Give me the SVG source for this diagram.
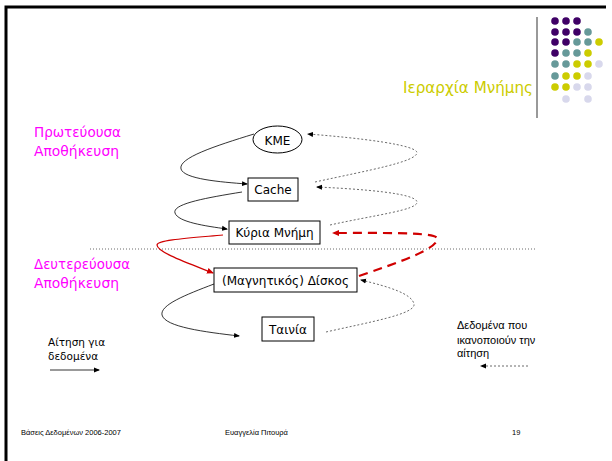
<svg xmlns="http://www.w3.org/2000/svg" width="612" height="461" viewBox="0 0 612 461">
<defs>
<style>
.node{fill:#fff;stroke:#000;stroke-width:1}
.nt{font-family:"DejaVu Sans","Liberation Sans",sans-serif;font-size:12px;fill:#000;text-anchor:middle}
.mag{font-family:"DejaVu Sans","Liberation Sans",sans-serif;font-size:14px;fill:#ff00ff}
.leg{font-family:"DejaVu Sans","Liberation Sans",sans-serif;font-size:10.5px;fill:#000}
.legr{font-family:"Liberation Sans",Arial,sans-serif;font-size:11px;fill:#000}
.foot{font-family:"Liberation Sans",Arial,sans-serif;font-size:7.5px;fill:#000}
.req{fill:none;stroke:#000;stroke-width:0.8;marker-end:url(#ab)}
.ret{fill:none;stroke:#444;stroke-width:0.8;stroke-dasharray:2,2;marker-end:url(#ab)}
.redreq{fill:none;stroke:#d00000;stroke-width:1.2;marker-end:url(#ar)}
.redret{fill:none;stroke:#d00000;stroke-width:2.2;stroke-dasharray:9,6;marker-end:url(#ar)}
.p{fill:#3f0066}.t{fill:#669999}.y{fill:#cccc00}.l{fill:#d8d8ec}
</style>
<marker id="ab" markerWidth="6" markerHeight="6" refX="5" refY="3" orient="auto" markerUnits="userSpaceOnUse">
<path d="M0,0.5 L6,3 L0,5.5 Z" fill="#000"/>
</marker>
<marker id="ar" markerWidth="7" markerHeight="7" refX="6" refY="3.5" orient="auto" markerUnits="userSpaceOnUse">
<path d="M0,0.5 L7,3.5 L0,6.5 Z" fill="#d00000"/>
</marker>
</defs>
<rect x="0" y="0" width="612" height="461" fill="#fff"/>
<!-- frame -->
<path d="M6,461 L6,7 L606,7" fill="none" stroke="#000" stroke-width="3"/>
<!-- title decoration -->
<line x1="537" y1="17" x2="537" y2="118" stroke="#777" stroke-width="1.5"/>
<g id="dots">
<circle class="p" cx="555" cy="21" r="3.8"/><circle class="p" cx="566" cy="21" r="3.8"/><circle class="p" cx="577" cy="21" r="3.8"/>
<circle class="p" cx="555" cy="32" r="3.8"/><circle class="p" cx="566" cy="32" r="3.8"/><circle class="p" cx="577" cy="32" r="3.8"/><circle class="t" cx="588" cy="32" r="3.8"/>
<circle class="p" cx="555" cy="42" r="3.8"/><circle class="p" cx="566" cy="42" r="3.8"/><circle class="t" cx="577" cy="42" r="3.8"/><circle class="t" cx="588" cy="42" r="3.8"/><circle class="y" cx="599" cy="42" r="3.8"/>
<circle class="p" cx="555" cy="53" r="3.8"/><circle class="t" cx="566" cy="53" r="3.8"/><circle class="t" cx="577" cy="53" r="3.8"/><circle class="y" cx="588" cy="53" r="3.8"/>
<circle class="t" cx="555" cy="64" r="3.8"/><circle class="t" cx="566" cy="64" r="3.8"/><circle class="y" cx="577" cy="64" r="3.8"/><circle class="y" cx="588" cy="64" r="3.8"/><circle class="l" cx="599" cy="64" r="3.8"/>
<circle class="t" cx="555" cy="76" r="3.8"/><circle class="y" cx="566" cy="76" r="3.8"/><circle class="y" cx="577" cy="76" r="3.8"/><circle class="l" cx="588" cy="76" r="3.8"/>
<circle class="y" cx="555" cy="87" r="3.8"/><circle class="y" cx="566" cy="87" r="3.8"/><circle class="l" cx="577" cy="87" r="3.8"/><circle class="l" cx="588" cy="87" r="3.8"/>
<circle class="l" cx="566" cy="99" r="3.8"/><circle class="l" cx="588" cy="99" r="3.8"/>
</g>
<text x="403" y="93" font-family="DejaVu Sans,Liberation Sans,sans-serif" font-size="15" fill="#cccc00" textLength="130" lengthAdjust="spacingAndGlyphs">Ιεραρχία Μνήμης</text>
<!-- section labels -->
<text class="mag" x="34" y="137" textLength="87" lengthAdjust="spacingAndGlyphs">Πρωτεύουσα</text>
<text class="mag" x="34" y="156" textLength="85" lengthAdjust="spacingAndGlyphs">Αποθήκευση</text>
<text class="mag" x="34" y="269" textLength="96" lengthAdjust="spacingAndGlyphs">Δευτερεύουσα</text>
<text class="mag" x="34" y="288" textLength="85" lengthAdjust="spacingAndGlyphs">Αποθήκευση</text>
<!-- separator -->
<line x1="90" y1="249" x2="537" y2="249" stroke="#444" stroke-width="0.8" stroke-dasharray="1,2"/>
<!-- connectors -->
<g id="connectors">
<path class="req" d="M254,134 C215,146 178,158 181,169 C184,179 220,182 247,184"/>
<path class="req" d="M242,192 C205,198 172,204 175,213 C178,222 205,226 227,229"/>
<path class="redreq" d="M223,235 C190,238 157,240 157,245 C157,252 185,262 213,273"/>
<path class="req" d="M214,284 C185,295 160,305 162,315 C165,327 205,332 239,336"/>
<path class="ret" d="M315,182 C370,170 415,162 417,153 C418,145 360,138 308,134"/>
<path class="ret" d="M330,225 C375,215 418,210 417,202 C416,193 360,189 317,187"/>
<path class="redret" d="M359,276 C400,262 440,248 437,238 C434,232 380,233 333,233"/>
<path class="ret" d="M326,332 C370,322 416,314 414,304 C412,294 390,287 361,280"/>
</g>
<!-- nodes -->
<g id="kme"><ellipse class="node" cx="277.5" cy="139.5" rx="24.5" ry="13.5"/><text class="nt" x="277.5" y="144.5">KME</text></g>
<g id="cache"><rect class="node" x="248" y="178" width="50" height="23"/><text class="nt" x="273" y="194">Cache</text></g>
<g id="kyria"><rect class="node" x="229" y="221" width="91" height="23"/><text class="nt" x="274.5" y="237">Κύρια Μνήμη</text></g>
<g id="diskos"><rect class="node" x="214" y="268" width="143" height="24"/><text class="nt" x="285.5" y="284.5">(Μαγνητικός) Δίσκος</text></g>
<g id="tainia"><rect class="node" x="262" y="317" width="52" height="24"/><text class="nt" x="288" y="333.5">Ταινία</text></g>
<!-- legend -->
<g id="legend-req">
<text class="leg" x="48" y="346">Αίτηση για</text>
<text class="leg" x="48" y="360">δεδομένα</text>
<line x1="50" y1="370" x2="99" y2="370" stroke="#000" stroke-width="0.8" marker-end="url(#ab)"/>
</g>
<g id="legend-ret">
<text class="legr" x="457" y="329">Δεδομένα που</text>
<text class="legr" x="457" y="344">ικανοποιούν την</text>
<text class="legr" x="457" y="357">αίτηση</text>
<line x1="528" y1="366" x2="481" y2="366" stroke="#444" stroke-width="0.8" stroke-dasharray="2,2" marker-end="url(#ab)"/>
</g>
<!-- footer -->
<text class="foot" x="21" y="435">Βάσεις Δεδομένων 2006-2007</text>
<text class="foot" x="225" y="435">Ευαγγελία Πιτουρά</text>
<text class="foot" x="512" y="435">19</text>
</svg>
